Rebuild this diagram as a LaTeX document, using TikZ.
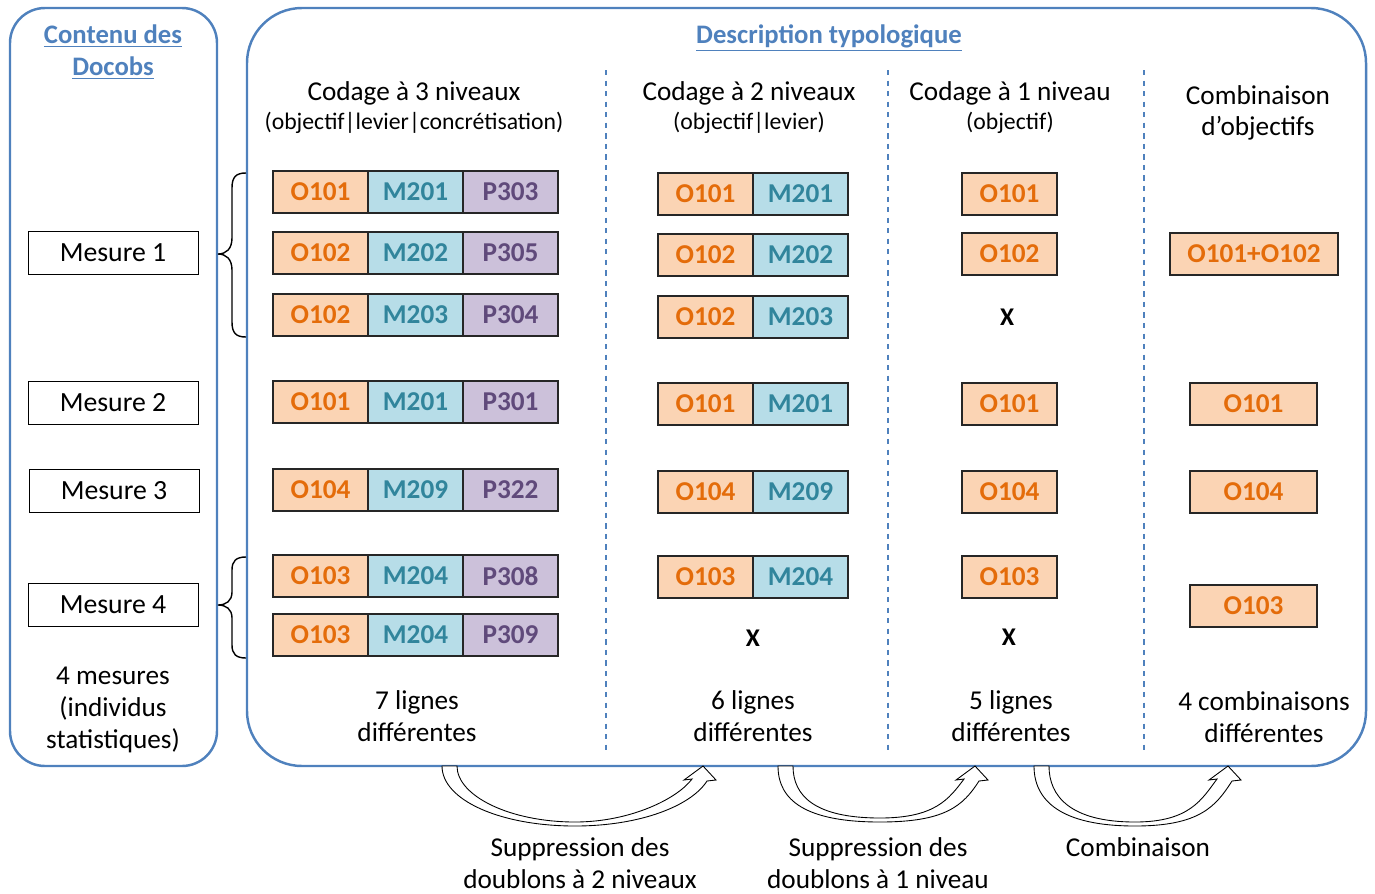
\documentclass[tikz,border=0pt]{standalone}
\usepackage{fontspec}
\setmainfont{Carlito}
\definecolor{frameblue}{HTML}{4F81BD}
\definecolor{ofill}{HTML}{FBD4B4}
\definecolor{otext}{HTML}{E46C0A}
\definecolor{mfill}{HTML}{B7DDE8}
\definecolor{mtext}{HTML}{31859C}
\definecolor{pfill}{HTML}{CCC1DA}
\definecolor{ptext}{HTML}{604A7B}
\newcommand{\curvedblockarrow}[4]{%
 \draw[barrow] (#1,766) .. controls (#1,800) and ({#3-75},#4) .. (#3,#4)
   .. controls ({#3+65},#4) and ({#2-12},806) .. ({#2+4},781)
   -- ({#2+13},780) -- (#2,766) -- ({#2-19},780) -- ({#2-11},779)
   .. controls ({#2-26},799) and ({#3+55},{#4-4}) .. (#3,{#4-4})
   .. controls ({#3-65},{#4-4}) and ({#1+15},796) .. ({#1+15},766) -- cycle;}
\begin{document}
\begin{tikzpicture}[x=0.02cm,y=-0.02cm,
 cell/.style={draw=black!85, line width=0.7pt, minimum width=1.9cm, minimum height=0.84cm, inner sep=0pt, font=\fontsize{15.5}{18}\selectfont\bfseries},
 ocell/.style={cell, fill=ofill, text=otext},
 mcell/.style={cell, fill=mfill, text=mtext},
 pcell/.style={cell, fill=pfill, text=ptext},
 mesure/.style={draw, line width=0.5pt, minimum width=3.4cm, minimum height=0.86cm, inner sep=0pt, font=\fontsize{15.8}{18}\selectfont},
 txt/.style={align=center, inner sep=0pt, font=\fontsize{15.5}{18}\selectfont},
 sub/.style={align=center, inner sep=0pt, font=\fontsize{13.5}{15}\selectfont},
 head/.style={align=center, inner sep=0pt, text=frameblue, font=\fontsize{15.2}{18}\selectfont\bfseries},
 frame/.style={draw=frameblue, line width=1.4pt},
 sep/.style={draw=frameblue, line width=0.6pt, dash pattern=on 3pt off 3pt},
 xmark/.style={font=\fontsize{14.5}{16}\selectfont\bfseries},
 barrow/.style={draw=black, line width=0.5pt, fill=white},
 bracestyle/.style={draw=black, line width=0.8pt}
]
\useasboundingbox (0,0) rectangle (1375,893);
% frames
\draw[frame, rounded corners=0.7cm] (10,8) rectangle (217,766);
\draw[frame, rounded corners=1.1cm] (247,8) rectangle (1366,766);
% curved block arrows
\curvedblockarrow{442}{703}{575}{826}
\curvedblockarrow{778}{975}{880}{822}
\curvedblockarrow{1034}{1228}{1135}{826}
% headers
\node[head] (hcont) at (113,52) {\underline{Contenu des}\\\underline{Docobs}};
\node[head] (hdesc) at (829,38) {\underline{Description typologique}};
% separators
\draw[sep] (606,70) -- (606,752);
\draw[sep] (888,70) -- (888,752);
\draw[sep] (1144,70) -- (1144,752);
% column headers
\node[txt] (c3) at (414,93) {Codage à 3 niveaux};
\node[sub] (c3s) at (414,123) {(objectif|levier|concrétisation)};
\node[txt] (c2) at (749,93) {Codage à 2 niveaux};
\node[sub] (c2s) at (749,123) {(objectif|levier)};
\node[txt] (c1) at (1010,93) {Codage à 1 niveau};
\node[sub] (c1s) at (1010,123) {(objectif)};
\node[txt] (cc) at (1258,113) {Combinaison\\d’objectifs};
% 3-level
\foreach \y/\o/\m/\p [count=\i] in {192/O101/M201/P303, 253/O102/M202/P305, 315/O102/M203/P304, 402/O101/M201/P301, 490/O104/M209/P322, 576/O103/M204/P308, 635/O103/M204/P309} {
  \node[ocell] (a\i-o) at (320.5,\y) {\o};
  \node[mcell] (a\i-m) at (415.5,\y) {\m};
  \node[pcell] (a\i-p) at (510.5,\y) {\p};
}
% 2-level
\foreach \y/\o/\m [count=\i] in {194/O101/M201, 255/O102/M202, 317/O102/M203, 404/O101/M201, 492/O104/M209, 577/O103/M204} {
  \node[ocell] (b\i-o) at (705.5,\y) {\o};
  \node[mcell] (b\i-m) at (800.5,\y) {\m};
}
\node[xmark] (bx) at (753,638) {X};
% 1-level
\foreach \y/\o [count=\i] in {194/O101, 254/O102, 404/O101, 492/O104, 577/O103} {
  \node[ocell] (c\i-o) at (1009.5,\y) {\o};
}
\node[xmark] (cx1) at (1007,317) {X};
\node[xmark] (cx2) at (1009,637) {X};
% combinations
\node[ocell, minimum width=3.36cm] (d1) at (1254,254) {O101+O102};
\node[ocell, minimum width=2.54cm] (d2) at (1253.5,404) {O101};
\node[ocell, minimum width=2.54cm] (d3) at (1253.5,492) {O104};
\node[ocell, minimum width=2.54cm] (d4) at (1253.5,606) {O103};
% mesures
\node[mesure] (m1) at (113,253) {Mesure 1};
\node[mesure] (m2) at (113,403) {Mesure 2};
\node[mesure] (m3) at (114,491) {Mesure 3};
\node[mesure] (m4) at (113,605) {Mesure 4};
\node[txt] (mtot) at (113,710) {4 mesures\\(individus\\statistiques)};
% braces
\draw[bracestyle] (246,173) .. controls (236,173) and (232,177) .. (232,188) -- (232,238)
   .. controls (232,249) and (226,254) .. (218,254)
   .. controls (226,254) and (232,259) .. (232,270) -- (232,322)
   .. controls (232,333) and (236,337) .. (246,337);
\draw[bracestyle] (246,557) .. controls (236,557) and (232,561) .. (232,570) -- (232,592)
   .. controls (232,601) and (226,605) .. (218,605)
   .. controls (226,605) and (232,609) .. (232,618) -- (232,645)
   .. controls (232,654) and (236,658) .. (246,658);
% bottom counts
\node[txt] (t3) at (417,716) {7 lignes\\différentes};
\node[txt] (t2) at (753,716) {6 lignes\\différentes};
\node[txt] (t1) at (1011,716) {5 lignes\\différentes};
\node[txt] (tc) at (1264,717) {4 combinaisons\\différentes};
% arrow labels
\node[txt] (l1) at (580,863) {Suppression des\\doublons à 2 niveaux};
\node[txt] (l2) at (878,863) {Suppression des\\doublons à 1 niveau};
\node[txt] (l3) at (1138,847) {Combinaison};
\end{tikzpicture}
\end{document}
